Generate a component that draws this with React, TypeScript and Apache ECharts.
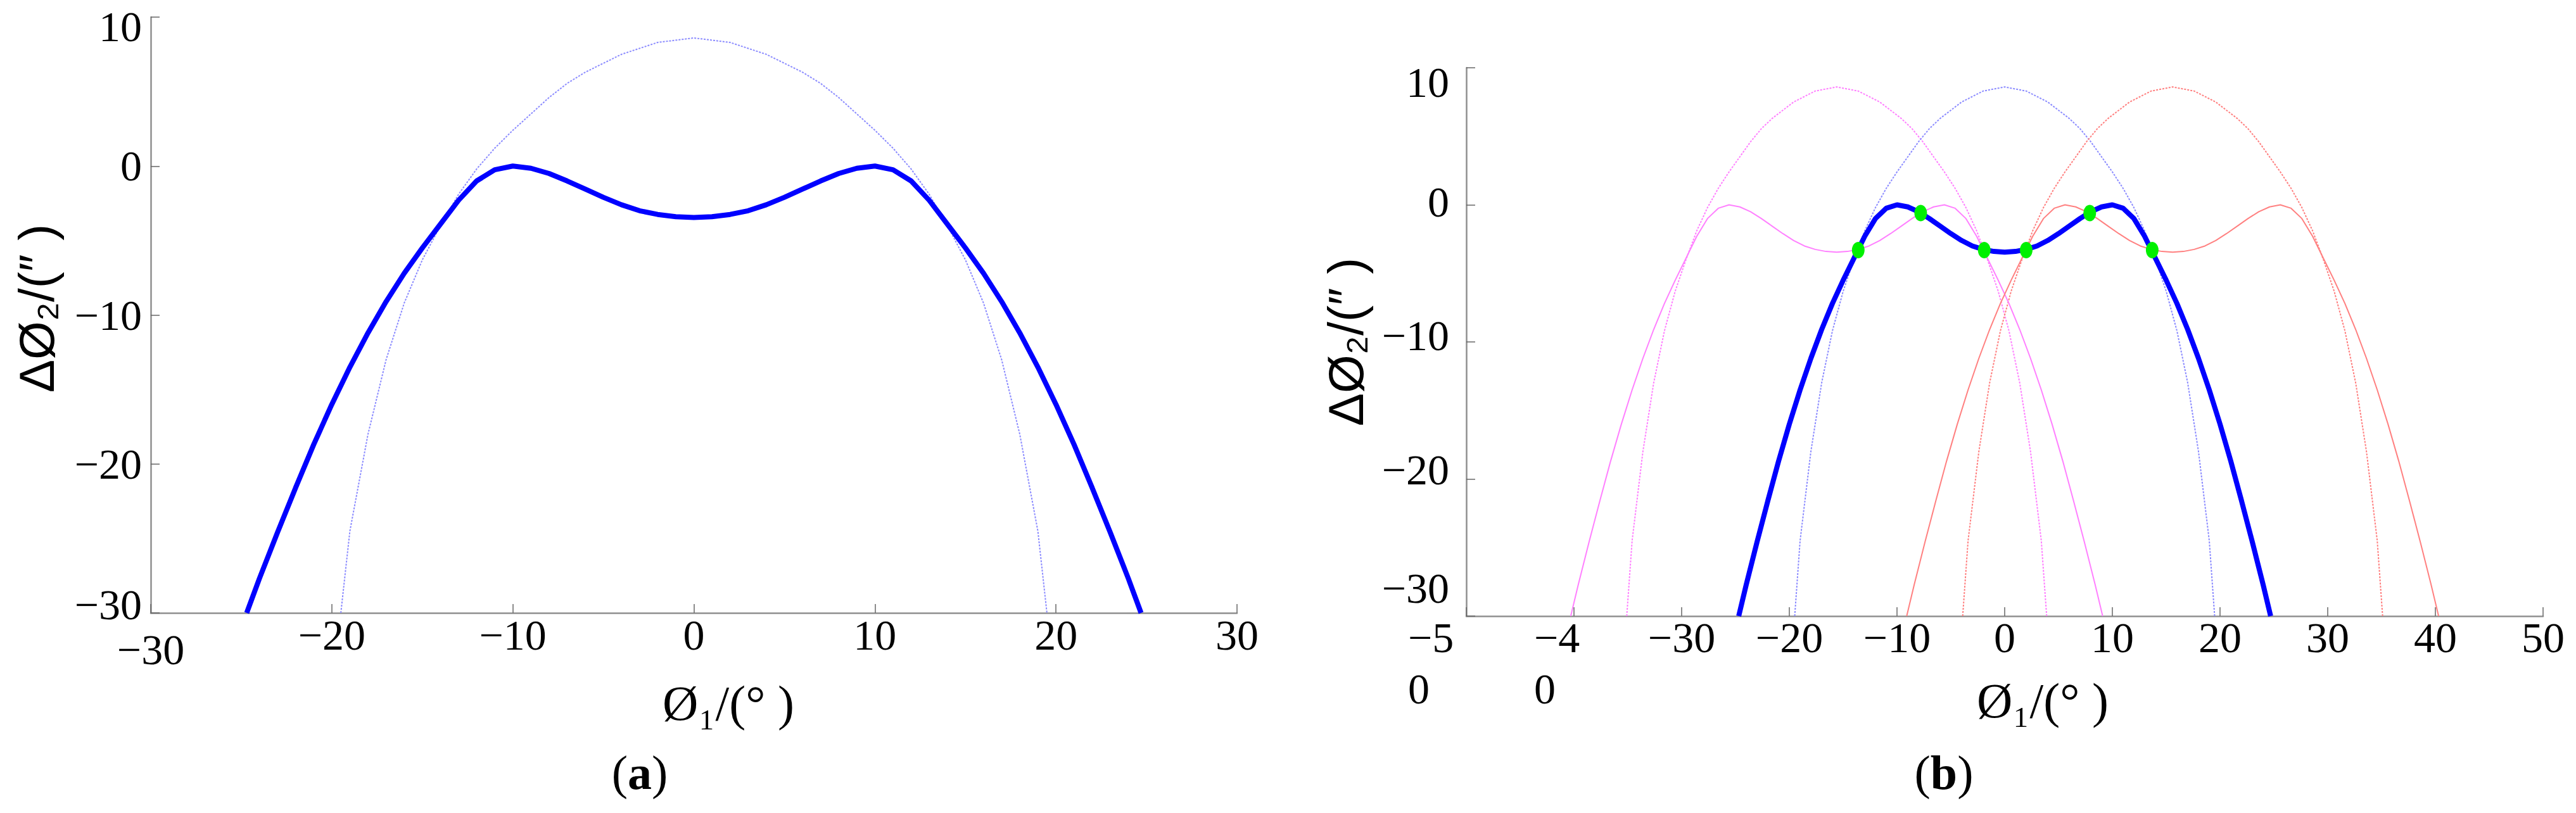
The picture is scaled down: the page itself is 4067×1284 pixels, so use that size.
import React, { useEffect, useRef } from "react";
import * as echarts from "echarts";

// ---------- data ----------
// thick blue curve (panel a and b): phi1 (deg) -> delta phi2 (arcsec)
const thickX = [-24.7, -24, -23, -22, -21, -20, -19, -18, -17, -16, -15, -14, -13, -12, -11, -10, -9, -8, -7, -6, -5, -4, -3, -2, -1, 0, 1, 2, 3, 4, 5, 6, 7, 8, 9, 10, 11, 12, 13, 14, 15, 16, 17, 18, 19, 20, 21, 22, 23, 24, 24.7];
const thickY = [-30, -27.7, -24.6, -21.6, -18.7, -16, -13.5, -11.2, -9.1, -7.2, -5.5, -3.9, -2.3, -1, -0.25, 0, -0.15, -0.5, -1, -1.55, -2.1, -2.6, -3, -3.25, -3.4, -3.45, -3.4, -3.25, -3, -2.6, -2.1, -1.55, -1, -0.5, -0.15, 0, -0.25, -1, -2.3, -3.9, -5.5, -7.2, -9.1, -11.2, -13.5, -16, -18.7, -21.6, -24.6, -27.7, -30];
// magenta / red solid copies in panel b (same values, read at their own positions)
const magentaSolidX = [-40.3, -39.6, -38.6, -37.6, -36.6, -35.6, -34.6, -33.6, -32.6, -31.6, -30.6, -29.6, -28.6, -27.6, -26.6, -25.6, -24.6, -23.6, -22.6, -21.6, -20.6, -19.6, -18.6, -17.6, -16.6, -15.6, -14.6, -13.6, -12.6, -11.6, -10.6, -9.6, -8.6, -7.6, -6.6, -5.6, -4.6, -3.6, -2.6, -1.6, -0.6, 0.4, 1.4, 2.4, 3.4, 4.4, 5.4, 6.4, 7.4, 8.4, 9.1];
const redSolidX = [-9.1, -8.4, -7.4, -6.4, -5.4, -4.4, -3.4, -2.4, -1.4, -0.4, 0.6, 1.6, 2.6, 3.6, 4.6, 5.6, 6.6, 7.6, 8.6, 9.6, 10.6, 11.6, 12.6, 13.6, 14.6, 15.6, 16.6, 17.6, 18.6, 19.6, 20.6, 21.6, 22.6, 23.6, 24.6, 25.6, 26.6, 27.6, 28.6, 29.6, 30.6, 31.6, 32.6, 33.6, 34.6, 35.6, 36.6, 37.6, 38.6, 39.6, 40.3];

// thin dotted single-peak curve
const thinX = [-19.5, -19, -18, -17, -16, -15, -14, -13, -12, -11, -10, -9, -8, -7, -6, -4, -2, 0, 2, 4, 6, 7, 8, 9, 10, 11, 12, 13, 14, 15, 16, 17, 18, 19, 19.5];
const thinY = [-30, -24.5, -18, -13, -9.2, -6.3, -4, -1.9, -0.2, 1.2, 2.4, 3.5, 4.6, 5.55, 6.3, 7.5, 8.3, 8.6, 8.3, 7.5, 6.3, 5.55, 4.6, 3.5, 2.4, 1.2, -0.2, -1.9, -4, -6.3, -9.2, -13, -18, -24.5, -30];
const magentaThinX = [-35.1, -34.6, -33.6, -32.6, -31.6, -30.6, -29.6, -28.6, -27.6, -26.6, -25.6, -24.6, -23.6, -22.6, -21.6, -19.6, -17.6, -15.6, -13.6, -11.6, -9.6, -8.6, -7.6, -6.6, -5.6, -4.6, -3.6, -2.6, -1.6, -0.6, 0.4, 1.4, 2.4, 3.4, 3.9];
const redThinX = [-3.9, -3.4, -2.4, -1.4, -0.4, 0.6, 1.6, 2.6, 3.6, 4.6, 5.6, 6.6, 7.6, 8.6, 9.6, 11.6, 13.6, 15.6, 17.6, 19.6, 21.6, 22.6, 23.6, 24.6, 25.6, 26.6, 27.6, 28.6, 29.6, 30.6, 31.6, 32.6, 33.6, 34.6, 35.1];

// green intersection points (panel b)
const greenX = [-13.6, -7.8, -1.9, 2.0, 7.9, 13.7];
const greenY = [-3.3, -0.6, -3.3, -3.3, -0.6, -3.3];

// axis ticks
const aXTicks = [-30, -20, -10, 0, 10, 20, 30];
const bXTicks = [-50, -40, -30, -20, -10, 0, 10, 20, 30, 40, 50];
const yTicks = [-30, -20, -10, 0, 10];

// texts
const yTitleText = "\u0394\u00d8\u2082/(\u2033 )";
const xTitleText = "\u00d8\u2081/(\u00b0 )";

const pairs = (xs: number[], ys: number[]) => xs.map((x, i) => [x, ys[i]]);
const fmt = (v: number) => String(v).replace("-", "\u2212");

const SERIF = "'Liberation Serif', 'Times New Roman', serif";
const SANS = "'Liberation Sans', Arial, sans-serif";

export default function App() {
  const ref = useRef<HTMLDivElement>(null);
  useEffect(() => {
    if (!ref.current) return;
    const chart = echarts.init(ref.current, null, { renderer: "svg" });
    const FS = 68;
    const tok = (extra: any) => ({ fontSize: FS, fontFamily: SERIF, color: "#000", lineHeight: FS, ...extra });
    const axisLine = { show: true, onZero: false, lineStyle: { color: "#8f8f8f", width: 2.5 } };
    const axisTick = { show: true, inside: true, length: 14, lineStyle: { color: "#666", width: 1.5 } };
    const baseLabel = { fontFamily: SERIF, fontSize: FS, color: "#000", lineHeight: FS, showMinLabel: true, showMaxLabel: true };

    const thin = (data: number[][], color: string, xi: number) => ({
      type: "line", xAxisIndex: xi, yAxisIndex: xi, data, showSymbol: false, silent: true,
      lineStyle: { color, width: 2, type: [3, 2] },
    });
    const solid = (data: number[][], color: string, xi: number, width: number) => ({
      type: "line", xAxisIndex: xi, yAxisIndex: xi, data, showSymbol: false, silent: true,
      lineStyle: { color, width },
    });

    const yTitle = (x: number, y: number) => ({
      type: "text", x, y, rotation: Math.PI / 2,
      style: {
        text: yTitleText, fontFamily: SANS, fontSize: 78, fill: "#000",
        align: "center", verticalAlign: "middle",
      },
    });
    const xTitle = (x: number, y: number) => ({
      type: "text", x, y,
      style: {
        text: xTitleText, fontFamily: SERIF, fontSize: 78, fill: "#000",
        align: "center", verticalAlign: "middle",
      },
    });
    const caption = (x: number, y: number, letter: string) => ({
      type: "text", x, y,
      style: {
        text: "({b|" + letter + "})", fontFamily: SERIF, fontSize: 76, fill: "#000",
        align: "center", verticalAlign: "middle",
        rich: { b: { fontFamily: SERIF, fontSize: 76, fontWeight: "bold", fill: "#000" } },
      },
    });

    const option: any = {
      animation: false,
      backgroundColor: "#fff",
      grid: [
        { left: 238, top: 27, width: 1715, height: 941, outerBoundsMode: "none" },
        { left: 2315, top: 107, width: 1700, height: 866, outerBoundsMode: "none" },
      ],
      xAxis: [
        {
          gridIndex: 0, type: "value", min: aXTicks[0], max: aXTicks[aXTicks.length - 1], interval: 10,
          axisLine, axisTick, splitLine: { show: false },
          axisLabel: {
            ...baseLabel, margin: 1,
            formatter: (v: number) => (v === -30 ? "{dn|" + fmt(v) + "}" : fmt(v)),
            rich: { dn: tok({ padding: [46, 0, 0, 0] }) },
          },
        },
        {
          gridIndex: 1, type: "value", min: bXTicks[0], max: bXTicks[bXTicks.length - 1], interval: 10,
          axisLine, axisTick, splitLine: { show: false },
          axisLabel: {
            ...baseLabel, margin: 0,
            formatter: (v: number) => {
              if (v === -50) return "{w5|\u22125}\n{w5b|0}";
              if (v === -40) return "{w4|\u22124}\n{w4b|0}";
              return fmt(v);
            },
            rich: {
              w5: tok({ width: 184, align: "left" }),
              w5b: tok({ width: 184, align: "left", lineHeight: 94 }),
              w4: tok({ width: 126, align: "left" }),
              w4b: tok({ width: 126, align: "left", lineHeight: 94 }),
            },
          },
        },
      ],
      yAxis: [
        {
          gridIndex: 0, type: "value", min: yTicks[0], max: yTicks[yTicks.length - 1], interval: 10,
          axisLine, axisTick, splitLine: { show: false },
          axisLabel: {
            ...baseLabel, margin: 14,
            formatter: (v: number) => {
              if (v === 10) return "{dn|" + fmt(v) + "}";
              if (v === -30) return "{up|" + fmt(v) + "}";
              return fmt(v);
            },
            rich: {
              dn: tok({ padding: [30, 0, 0, 0] }),
              up: tok({ padding: [0, 0, 26, 0] }),
            },
          },
        },
        {
          gridIndex: 1, type: "value", min: yTicks[0], max: yTicks[yTicks.length - 1], interval: 10,
          axisLine, axisTick, splitLine: { show: false },
          axisLabel: {
            ...baseLabel, margin: 27,
            formatter: (v: number) => {
              const key: any = { 10: "p10", 0: "p0", "-10": "pm10", "-20": "pm20", "-30": "pm30" };
              return "{" + key[v] + "|" + fmt(v) + "}";
            },
            rich: {
              p10: tok({ padding: [46, 0, 0, 0] }),
              p0: tok({ padding: [0, 0, 10, 0] }),
              pm10: tok({ padding: [0, 0, 20, 0] }),
              pm20: tok({ padding: [0, 0, 30, 0] }),
              pm30: tok({ padding: [0, 0, 88, 0] }),
            },
          },
        },
      ],
      series: [
        // panel a
        thin(pairs(thinX, thinY), "#8c8cff", 0),
        solid(pairs(thickX, thickY), "#0000ff", 0, 8),
        // panel b
        thin(pairs(magentaThinX, thinY), "#ff80ff", 1),
        thin(pairs(thinX, thinY), "#8c8cff", 1),
        thin(pairs(redThinX, thinY), "#ff8080", 1),
        solid(pairs(magentaSolidX, thickY), "#ff80ff", 1, 2),
        solid(pairs(redSolidX, thickY), "#ff8080", 1, 2),
        solid(pairs(thickX, thickY), "#0000ff", 1, 8),
        {
          type: "scatter", xAxisIndex: 1, yAxisIndex: 1, data: pairs(greenX, greenY), silent: true, z: 5,
          symbol: "circle", symbolSize: [20, 26], itemStyle: { color: "#00f000", opacity: 1 },
        },
      ],
      graphic: [
        yTitle(58, 487),
        yTitle(2125, 540),
        xTitle(1150, 1110),
        xTitle(3225, 1106),
        caption(1010, 1220, "a"),
        caption(3069, 1220, "b"),
      ],
    };
    chart.setOption(option);
    return () => chart.dispose();
  }, []);
  return (
    <div
      ref={ref}
      style={{ position: "fixed", left: 0, top: 0, width: "4067px", height: "1284px", background: "#fff" }}
    />
  );
}
